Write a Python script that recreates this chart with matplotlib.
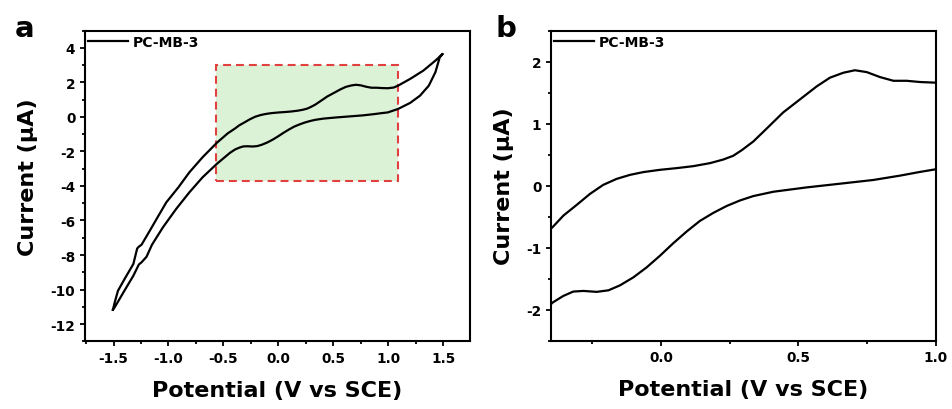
import matplotlib
matplotlib.use("Agg")
import matplotlib.pyplot as plt
from matplotlib.patches import Rectangle
from matplotlib.ticker import MultipleLocator

# forward scan (upper branch), potential in V vs SCE, current in uA
fwd_v = [-1.506, -1.49, -1.46, -1.40, -1.32, -1.285, -1.27, -1.245, -1.17, -1.10,
         -1.02, -0.91, -0.81, -0.69, -0.56, -0.46,
         -0.394, -0.355, -0.306, -0.258, -0.210, -0.161, -0.112, -0.064, -0.003,
         0.057, 0.118, 0.179, 0.227, 0.263, 0.294, 0.336, 0.385, 0.445, 0.506,
         0.567, 0.615, 0.664, 0.706, 0.749, 0.797, 0.846, 0.894, 0.943, 0.997,
         1.05, 1.09, 1.20, 1.32, 1.43, 1.497]
fwd_i = [-11.17, -10.75, -10.07, -9.39, -8.52, -7.62, -7.52, -7.40, -6.59, -5.82,
         -4.95, -4.08, -3.21, -2.34, -1.50, -0.95,
         -0.67, -0.485, -0.31, -0.134, 0.011, 0.108, 0.173, 0.217, 0.254,
         0.281, 0.313, 0.362, 0.42, 0.48, 0.57, 0.71, 0.92, 1.18, 1.39,
         1.60, 1.74, 1.82, 1.86, 1.83, 1.75, 1.69, 1.69, 1.67, 1.66,
         1.70, 1.81, 2.20, 2.68, 3.26, 3.65]

# reverse scan (lower branch)
rev_v = [1.497, 1.47, 1.43, 1.37, 1.29, 1.20, 1.09,
         0.997, 0.943, 0.870, 0.773, 0.652, 0.530, 0.409, 0.336, 0.288, 0.239,
         0.191, 0.142, 0.094, 0.045, -0.003, -0.052, -0.100, -0.149, -0.191,
         -0.234, -0.282, -0.319, -0.355, -0.394,
         -0.44, -0.56, -0.69, -0.81, -0.93, -1.05, -1.15, -1.20, -1.245, -1.27,
         -1.32, -1.41, -1.49, -1.506]
rev_i = [3.65, 3.46, 2.59, 1.81, 1.23, 0.81, 0.46,
         0.26, 0.22, 0.16, 0.09, 0.03, -0.03, -0.10, -0.17, -0.24, -0.33,
         -0.44, -0.57, -0.74, -0.93, -1.13, -1.32, -1.48, -1.61, -1.69,
         -1.715, -1.70, -1.71, -1.78, -1.887,
         -2.08, -2.72, -3.50, -4.37, -5.33, -6.39, -7.40, -8.10, -8.42, -8.55,
         -9.20, -10.16, -11.03, -11.17]

cv_v = fwd_v + rev_v[1:]
cv_i = fwd_i + rev_i[1:]

label = "PC-MB-3"
# highlighted window in panel a (x0, x1, y0, y1)
box_x = [-0.565, 1.09]
box_y = [-3.7, 3.0]

plt.rcParams['font.family'] = 'DejaVu Sans'
plt.rcParams['font.weight'] = 'bold'
plt.rcParams['axes.unicode_minus'] = False

fig = plt.figure(figsize=(9.52, 4.10), dpi=100)
ax_a = fig.add_axes([0.0893, 0.165, 0.4044, 0.758])
ax_b = fig.add_axes([0.5788, 0.167, 0.4041, 0.756])


def style(ax):
    for s in ax.spines.values():
        s.set_linewidth(1.5)
    ax.tick_params(which='both', direction='out', width=1.3, top=False, right=False,
                   labelsize=9.8)
    ax.tick_params(which='major', length=3.5)
    ax.tick_params(which='minor', length=2.2)
    for t in ax.get_xticklabels() + ax.get_yticklabels():
        t.set_fontweight('bold')
    ax.set_xlabel("Potential (V vs SCE)", fontsize=16, fontweight='bold')
    ax.set_ylabel("Current (μA)", fontsize=16, fontweight='bold')
    ax.legend(loc='upper left', frameon=False, fontsize=10, handlelength=2.9,
              handletextpad=0.35, borderpad=0, borderaxespad=0,
              bbox_to_anchor=(0.008, 0.985))


# --- panel a ---
ax_a.add_patch(Rectangle((box_x[0], box_y[0]), box_x[1] - box_x[0], box_y[1] - box_y[0],
                         facecolor='#dcf2d6', edgecolor='none', zorder=1))
ax_a.add_patch(Rectangle((box_x[0], box_y[0]), box_x[1] - box_x[0], box_y[1] - box_y[0],
                         facecolor='none', edgecolor='#e2403f', linewidth=1.5,
                         linestyle=(0, (3.8, 2.4)), zorder=2))
ax_a.plot(cv_v, cv_i, color='black', linewidth=1.6, label=label, zorder=3)
ax_a.set_xlim(-1.76, 1.745)
ax_a.set_ylim(-13, 5)
ax_a.xaxis.set_major_locator(MultipleLocator(0.5))
ax_a.xaxis.set_minor_locator(MultipleLocator(0.25))
ax_a.yaxis.set_major_locator(MultipleLocator(2))
ax_a.yaxis.set_minor_locator(MultipleLocator(1))
style(ax_a)
ax_a.xaxis.set_label_coords(0.5, -0.125)
ax_a.yaxis.set_label_coords(-0.122, 0.53)

# --- panel b ---
ax_b.plot(cv_v, cv_i, color='black', linewidth=1.6, label=label)
ax_b.set_xlim(-0.4, 1.0)
ax_b.set_ylim(-2.5, 2.5)
ax_b.xaxis.set_major_locator(MultipleLocator(0.5))
ax_b.xaxis.set_minor_locator(MultipleLocator(0.25))
ax_b.yaxis.set_major_locator(MultipleLocator(1))
ax_b.yaxis.set_minor_locator(MultipleLocator(0.5))
style(ax_b)
ax_b.xaxis.set_label_coords(0.5, -0.125)
ax_b.yaxis.set_label_coords(-0.096, 0.5)

fig.text(0.016, 0.91, "a", fontsize=21, fontweight='bold')
fig.text(0.521, 0.91, "b", fontsize=21, fontweight='bold')

fig.savefig("out.png", dpi=100)
